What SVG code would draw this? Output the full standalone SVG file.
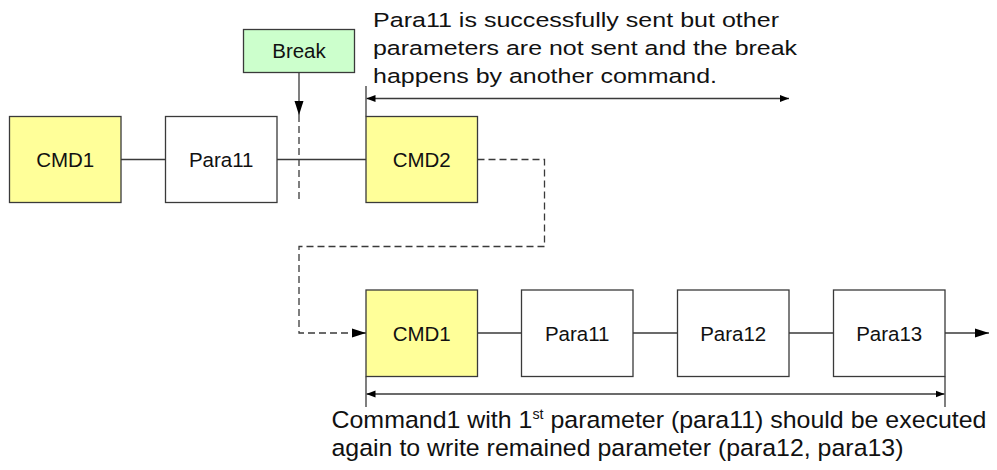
<svg xmlns="http://www.w3.org/2000/svg" width="997" height="470" viewBox="0 0 997 470">
<defs>
<style>
.box{stroke:#3a3a3a;stroke-width:1.3}
.cmd{fill:#ffff99}
.para{fill:#ffffff}
.brk{fill:#ccffcc}
.lbl{font-family:"Liberation Sans",Arial,sans-serif;font-size:20.5px;fill:#111;text-anchor:middle}
.note{font-family:"Liberation Sans",Arial,sans-serif;fill:#111}
.ln{stroke:#3a3a3a;stroke-width:1.3;fill:none}
.dash{stroke:#3a3a3a;stroke-width:1.3;fill:none;stroke-dasharray:7 4}
</style>
<marker id="big" markerUnits="userSpaceOnUse" markerWidth="14" markerHeight="10" refX="14" refY="5" orient="auto">
<path d="M0,0.5 L14,5 L0,9.5 Z" fill="#000"/>
</marker>
<marker id="sm" markerUnits="userSpaceOnUse" markerWidth="9" markerHeight="8" refX="9" refY="4" orient="auto-start-reverse">
<path d="M0,0.5 L9,4 L0,7.5 Z" fill="#000"/>
</marker>
</defs>
<rect width="997" height="470" fill="#ffffff"/>

<g id="connectors">
<line class="ln" x1="121" y1="159.5" x2="165.5" y2="159.5"/>
<line class="ln" x1="277" y1="159.5" x2="366" y2="159.5"/>
<line class="ln" x1="299" y1="72.5" x2="299" y2="115" marker-end="url(#big)"/>
<line class="dash" x1="299" y1="115" x2="299" y2="203"/>
<path class="dash" d="M477.5,159.5 H544.5 V246.5 H299 V333 H366" marker-end="url(#big)"/>
<line class="ln" x1="477.5" y1="333" x2="521.5" y2="333"/>
<line class="ln" x1="633" y1="333" x2="677.5" y2="333"/>
<line class="ln" x1="789" y1="333" x2="833.5" y2="333"/>
<line class="ln" x1="945" y1="333" x2="989" y2="333" marker-end="url(#big)"/>
<line class="ln" x1="366" y1="86" x2="366" y2="116.5"/>
<line class="ln" x1="366.5" y1="98.5" x2="789" y2="98.5" marker-start="url(#sm)" marker-end="url(#sm)"/>
<line class="ln" x1="366" y1="376.5" x2="366" y2="407"/>
<line class="ln" x1="945" y1="376.5" x2="945" y2="407"/>
<line class="ln" x1="366.5" y1="394" x2="944.5" y2="394" marker-start="url(#sm)" marker-end="url(#sm)"/>
</g>

<g id="cmd1-top">
<rect class="box cmd" x="9.5" y="116.5" width="111.5" height="86"/>
<text class="lbl" x="65.2" y="167">CMD1</text>
</g>
<g id="para11-top">
<rect class="box para" x="165.5" y="116.5" width="111.5" height="86"/>
<text class="lbl" x="221.2" y="167">Para11</text>
</g>
<g id="break">
<rect class="box brk" x="243.5" y="29.5" width="111" height="43"/>
<text class="lbl" x="299" y="58">Break</text>
</g>
<g id="cmd2">
<rect class="box cmd" x="366" y="116.5" width="111.5" height="86"/>
<text class="lbl" x="421.7" y="167">CMD2</text>
</g>

<g id="cmd1-bottom">
<rect class="box cmd" x="366" y="290" width="111.5" height="86.5"/>
<text class="lbl" x="421.7" y="340.5">CMD1</text>
</g>
<g id="para11-bottom">
<rect class="box para" x="521.5" y="290" width="111.5" height="86.5"/>
<text class="lbl" x="577.2" y="340.5">Para11</text>
</g>
<g id="para12">
<rect class="box para" x="677.5" y="290" width="111.5" height="86.5"/>
<text class="lbl" x="733.2" y="340.5">Para12</text>
</g>
<g id="para13">
<rect class="box para" x="833.5" y="290" width="111.5" height="86.5"/>
<text class="lbl" x="889.2" y="340.5">Para13</text>
</g>

<g id="note-top">
<text class="note" font-size="20.5" x="373" y="27" textLength="406" lengthAdjust="spacingAndGlyphs">Para11 is successfully sent but other</text>
<text class="note" font-size="20.5" x="373" y="55" textLength="424" lengthAdjust="spacingAndGlyphs">parameters are not sent and the break</text>
<text class="note" font-size="20.5" x="373" y="83" textLength="344" lengthAdjust="spacingAndGlyphs">happens by another command.</text>
</g>
<g id="note-bottom">
<text class="note" font-size="24.5" x="331.5" y="428" textLength="655" lengthAdjust="spacingAndGlyphs">Command1 with 1<tspan font-size="14" dy="-9">st</tspan><tspan dy="9"> parameter (para11) should be executed</tspan></text>
<text class="note" font-size="24.5" x="331.5" y="456" textLength="572" lengthAdjust="spacingAndGlyphs">again to write remained parameter (para12, para13)</text>
</g>
</svg>
